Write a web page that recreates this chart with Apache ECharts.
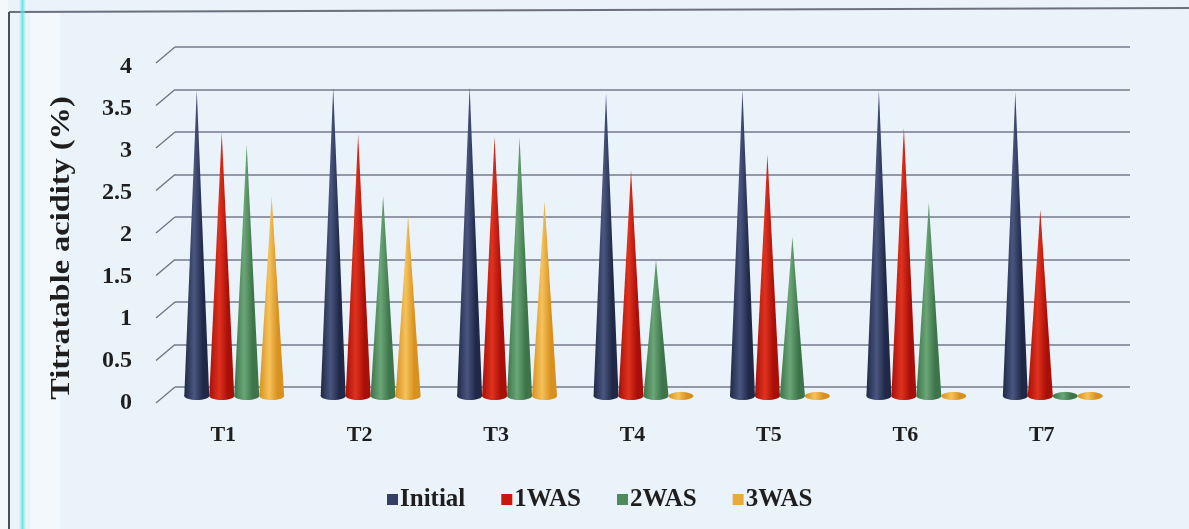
<!DOCTYPE html>
<html>
<head>
<meta charset="utf-8">
<script src="https://cdn.jsdelivr.net/npm/echarts@6/dist/echarts.min.js"></script>
<style>
html,body{margin:0;padding:0;background:#eaf2fa;}
#c{width:1189px;height:529px;}
</style>
</head>
<body>
<div id="c"></div>
<script>
const categories = ['T1','T2','T3','T4','T5','T6','T7'];
const seriesNames = ['Initial','1WAS','2WAS','3WAS'];
const initial = [3.60, 3.63, 3.64, 3.56, 3.60, 3.60, 3.58];
const was1    = [3.10, 3.08, 3.05, 2.66, 2.84, 3.16, 2.19];
const was2    = [2.96, 2.35, 3.04, 1.60, 1.87, 2.27, 0.05];
const was3    = [2.35, 2.12, 2.29, 0.05, 0.05, 0.05, 0.05];
const yTicks  = [0, 0.5, 1, 1.5, 2, 2.5, 3, 3.5, 4];

const colors = [
  ['#1f2846','#4a5680'],
  ['#a80f08','#e0321f'],
  ['#3d7449','#6aa677'],
  ['#d8901f','#f5c25a']
];
const legendColors = ['#353f65','#c8170d','#4f8a5b','#eaa93a'];
const allData = [initial, was1, was2, was3];

const chart = echarts.init(document.getElementById('c'));
const serif = '"Liberation Serif","DejaVu Serif",serif';

function coneRender(idx){
  return function(params, api){
    const cat = api.value(0);
    const v = api.value(1);
    const base = api.coord([cat, 0]);
    const top = api.coord([cat, v]);
    const band = api.size([1, 0])[0];
    const w = band * 0.183;
    const cx = base[0] + (idx - 1.5) * w;
    const by = base[1];
    const ty = top[1];
    const c = colors[idx];
    const grad = new echarts.graphic.LinearGradient(0,0,1,0,[
      {offset:0,color:c[0]},{offset:0.4,color:c[1]},{offset:0.75,color:c[0]},{offset:1,color:c[0]}
    ]);
    return {
      type:'group',
      children:[
        {type:'ellipse', shape:{cx:cx, cy:by, rx:w/2, ry:4}, style:{fill:grad}},
        {type:'polygon', shape:{points:[[cx-w/2,by],[cx,ty],[cx+w/2,by]]}, style:{fill:grad}}
      ]
    };
  };
}

const series = [];
series.push({
  type:'custom', xAxisIndex:0, yAxisIndex:0, silent:true,
  data: yTicks.map(t => [0, t]),
  renderItem: function(params, api){
    const p = api.coord([0, api.value(1)]);
    return {type:'line', shape:{x1:p[0], y1:p[1], x2:p[0]-19, y2:p[1]+16},
      style:{stroke:'#6f7385', lineWidth:1.3}};
  }
});
seriesNames.forEach((name, i) => {
  series.push({
    name: name, type:'custom', xAxisIndex:1, yAxisIndex:1,
    itemStyle:{color:legendColors[i]},
    data: allData[i].map((v, k) => [k, v]),
    renderItem: coneRender(i),
    encode:{x:0, y:1}
  });
});

chart.setOption({
  backgroundColor:'#eaf2fa',
  animation:false,
  grid:[
    {left:175, right:59, top:47, height:340},
    {left:166, width:955, top:56, height:340},
    {left:140, width:10, top:67, height:336}
  ],
  xAxis:[
    {gridIndex:0, type:'value', min:0, max:1, show:false},
    {gridIndex:1, type:'category', data:categories,
      axisLine:{show:false}, axisTick:{show:false},
      axisLabel:{margin:28, padding:[0,22,0,0], fontFamily:serif, fontWeight:'bold', fontSize:22, color:'#1e1e1e'}},
    {gridIndex:2, type:'value', show:false}
  ],
  yAxis:[
    {gridIndex:0, type:'value', min:0, max:4, interval:0.5,
      axisLine:{show:false}, axisTick:{show:false}, axisLabel:{show:false},
      splitLine:{lineStyle:{color:'#767a8a', width:1.5}}},
    {gridIndex:1, type:'value', min:0, max:4, show:false},
    {gridIndex:2, type:'value', min:0, max:4, interval:0.5,
      axisLine:{show:false}, axisTick:{show:false}, splitLine:{show:false},
      axisLabel:{margin:8, fontFamily:serif, fontWeight:'bold', fontSize:24, color:'#1e1e1e'}}
  ],
  legend:{
    data: seriesNames, left:382, top:482,
    icon:'rect', itemWidth:11, itemHeight:11, itemGap:36,
    textStyle:{fontFamily:serif, fontWeight:'bold', fontSize:25, color:'#1e1e1e', padding:[0,0,0,-3]}
  },
  graphic:[
    {type:'rect', shape:{x:0,y:0,width:8,height:529}, style:{fill:'#f4f8fb'}, z:-1},
    {type:'line', shape:{x1:9,y1:12,x2:1189,y2:8}, style:{stroke:'#6c6f7c', lineWidth:2}},
    {type:'line', shape:{x1:9,y1:12,x2:9,y2:529}, style:{stroke:'#4b4e5a', lineWidth:2}},
    {type:'rect', shape:{x:19,y:0,width:7,height:529},
      style:{fill:new echarts.graphic.LinearGradient(0,0,1,0,[
        {offset:0,color:'rgba(120,230,230,0)'},{offset:0.5,color:'rgba(90,225,225,0.85)'},{offset:1,color:'rgba(120,230,230,0)'}])}},
    {type:'rect', shape:{x:30,y:13,width:30,height:516},
      style:{fill:'rgba(255,255,255,0.45)'}},
    {type:'text', x:62, y:248, rotation:Math.PI/2, scaleX:1.2,
      style:{text:'Titratable acidity (%)', fontFamily:serif, fontWeight:'bold', fontSize:27,
        fill:'#1e1e1e', align:'center', verticalAlign:'middle'}}
  ],
  series: series
});
</script>
</body>
</html>
